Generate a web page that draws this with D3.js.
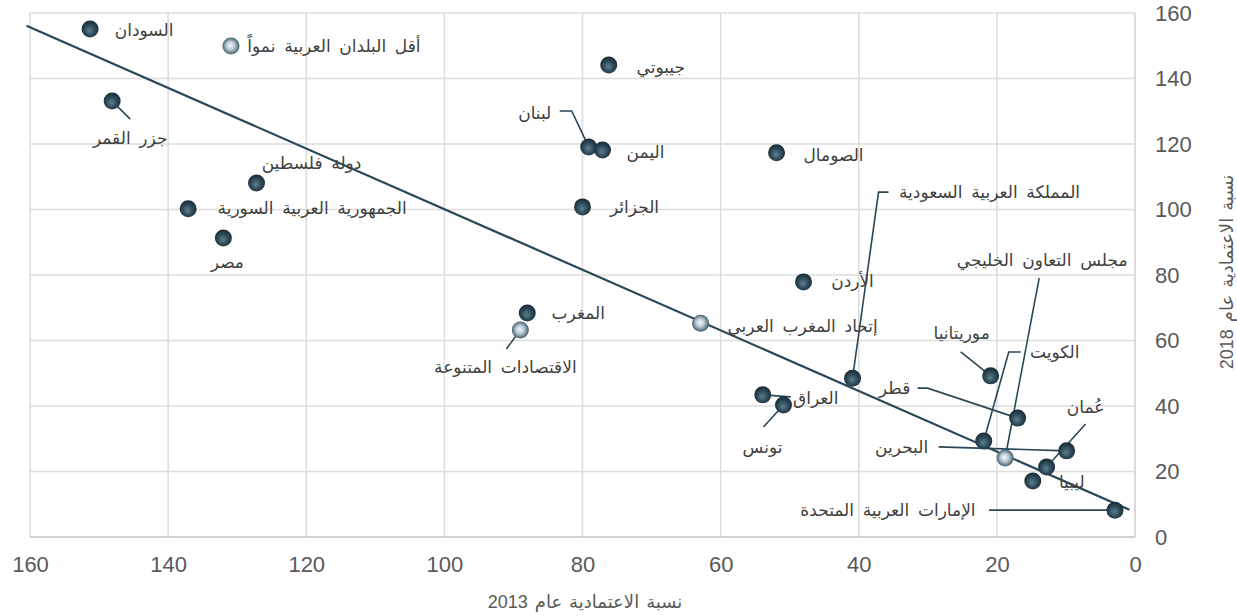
<!DOCTYPE html>
<html>
<head>
<meta charset="utf-8">
<script src="https://cdn.jsdelivr.net/npm/d3@7"></script>
<style>
  body { margin: 0; background: #fff; }
  text { font-family: "Liberation Sans", Arial, "DejaVu Sans", sans-serif; }
</style>
</head>
<body>
<div id="chart"></div>
<script>
'use strict';

// names, dependency 2013 (x) and 2018 (y)
var names = ['السودان', 'أقل البلدان العربية نمواً', 'جيبوتي', 'جزر القمر', 'لبنان', 'اليمن',
  'الصومال', 'الجزائر', 'دولة فلسطين', 'الجمهورية العربية السورية', 'مصر', 'الأردن',
  'المغرب', 'الاقتصادات المتنوعة', 'إتحاد المغرب العربي', 'العراق', 'تونس',
  'المملكة العربية السعودية', 'موريتانيا', 'قطر', 'الكويت', 'مجلس التعاون الخليجي',
  'البحرين', 'عُمان', 'ليبيا', 'الإمارات العربية المتحدة'];
var ratio2013 = [151.3, 130.9, 76.2, 148.1, 79.1, 77.1, 51.9, 80.0, 127.2, 137.1, 132.0, 48.0,
  88.0, 89.0, 62.9, 53.9, 50.9, 40.9, 20.9, 17.0, 21.9, 18.8, 9.9, 12.8, 14.8, 2.9];
var ratio2018 = [155.1, 149.9, 144.1, 133.1, 119.1, 118.2, 117.3, 100.8, 108.1, 100.2, 91.3, 77.9,
  68.4, 63.2, 65.3, 43.4, 40.3, 48.5, 49.2, 36.3, 29.3, 24.1, 26.3, 21.4, 17.1, 8.2];
// aggregates drawn with a pale marker
var groups = ['أقل البلدان العربية نمواً', 'الاقتصادات المتنوعة', 'إتحاد المغرب العربي', 'مجلس التعاون الخليجي'];

// trend line end points [x2013, y2018]
var trendX = [160.5, 0.8];
var trendY = [156.1, 8.3];

var xTicks = [160, 140, 120, 100, 80, 60, 40, 20, 0];
var yTicks = [0, 20, 40, 60, 80, 100, 120, 140, 160];
var xTitle = 'نسبة الاعتمادية عام 2013';
var yTitle = 'نسبة الاعتمادية عام 2018';

// label placement: offset of the label centre from the marker, plus optional leader path (offsets)
var labelLayout = {
  'السودان': {dx: 54, dy: 1},
  'أقل البلدان العربية نمواً': {dx: 103, dy: 0},
  'جيبوتي': {dx: 52, dy: 2},
  'جزر القمر': {dx: 18, dy: 37, lead: [[0, 0], [18, 18]]},
  'لبنان': {dx: -54, dy: -34, lead: [[0, 0], [-17, -36], [-29, -36]]},
  'اليمن': {dx: 43, dy: 2},
  'الصومال': {dx: 57, dy: 2},
  'الجزائر': {dx: 52, dy: 0},
  'دولة فلسطين': {dx: 55, dy: -20},
  'الجمهورية العربية السورية': {dx: 124, dy: -1},
  'مصر': {dx: 4, dy: 24},
  'الأردن': {dx: 49, dy: -1},
  'المغرب': {dx: 51, dy: 0},
  'الاقتصادات المتنوعة': {dx: -15, dy: 37, lead: [[0, 0], [-14, 19]]},
  'إتحاد المغرب العربي': {dx: 102, dy: 3},
  'العراق': {dx: 53, dy: 3, lead: [[0, 0], [28, 2]]},
  'تونس': {dx: -21, dy: 42, lead: [[0, 0], [-20, 22]]},
  'المملكة العربية السعودية': {dx: 137, dy: -186, lead: [[0, 0], [26, -186], [36, -186]]},
  'موريتانيا': {dx: -29, dy: -43, lead: [[-5, -4], [-30, -24]]},
  'قطر': {dx: -123, dy: -30, lead: [[0, 0], [-90, -30], [-100, -30]]},
  'الكويت': {dx: 71, dy: -89, lead: [[0, 0], [25, -89], [37, -89]]},
  'مجلس التعاون الخليجي': {dx: 37, dy: -198, lead: [[0, 0], [34, -180]]},
  'البحرين': {dx: -165, dy: -4, lead: [[0, 0], [-128, -4]]},
  'عُمان': {dx: 39, dy: -60, lead: [[0, 0], [39, -43]]},
  'ليبيا': {dx: 39, dy: 1},
  'الإمارات العربية المتحدة': {dx: -227, dy: 0, lead: [[0, 0], [-126, 0]]}
};

var width = 1237, height = 616;
var plotL = 30, plotR = 1135, plotT = 13, plotB = 537;
var ink = '#2b4757';

var svg = d3.select('#chart').append('svg')
  .attr('width', width)
  .attr('height', height);

var defs = svg.append('defs');
var gDark = defs.append('radialGradient').attr('id', 'ballDark')
  .attr('cx', '50%').attr('cy', '55%').attr('r', '55%').attr('fx', '45%').attr('fy', '60%');
gDark.append('stop').attr('offset', '0%').attr('stop-color', '#5f7f8e');
gDark.append('stop').attr('offset', '55%').attr('stop-color', '#2f4b5b');
gDark.append('stop').attr('offset', '100%').attr('stop-color', '#172934');
var gLight = defs.append('radialGradient').attr('id', 'ballLight')
  .attr('cx', '50%').attr('cy', '50%').attr('r', '55%').attr('fx', '45%').attr('fy', '45%');
gLight.append('stop').attr('offset', '0%').attr('stop-color', '#f4f7f9');
gLight.append('stop').attr('offset', '45%').attr('stop-color', '#b9c9d3');
gLight.append('stop').attr('offset', '80%').attr('stop-color', '#5d7786');
gLight.append('stop').attr('offset', '100%').attr('stop-color', '#2a4554');

var x = d3.scaleLinear().domain([160, 0]).range([plotL, plotR]);
var y = d3.scaleLinear().domain([0, 160]).range([plotB, plotT]);

// gridlines
svg.append('g').selectAll('line').data(xTicks).enter().append('line')
  .attr('x1', function(d){ return x(d); }).attr('x2', function(d){ return x(d); })
  .attr('y1', plotT).attr('y2', plotB)
  .attr('stroke', function(d){ return d === 0 ? '#cfcfcf' : '#dcdcdc'; })
  .attr('stroke-width', 1.5);
svg.append('g').selectAll('line').data(yTicks).enter().append('line')
  .attr('x1', plotL).attr('x2', plotR)
  .attr('y1', function(d){ return y(d); }).attr('y2', function(d){ return y(d); })
  .attr('stroke', function(d){ return d === 0 ? '#c4c4c4' : '#dcdcdc'; })
  .attr('stroke-width', 1.5);

// axes (labels only)
var xAxis = svg.append('g').attr('transform', 'translate(0,' + plotB + ')')
  .call(d3.axisBottom(x).tickValues(xTicks).tickSize(0).tickPadding(19));
var yAxis = svg.append('g').attr('transform', 'translate(' + (plotR + 20) + ',0)')
  .call(d3.axisRight(y).tickValues(yTicks).tickSize(0).tickPadding(0));
[xAxis, yAxis].forEach(function(a){
  a.select('.domain').remove();
  a.selectAll('text').attr('fill', '#595959').style('font-size', '22px')
    .style('font-family', '"Liberation Sans", Arial, sans-serif');
});

svg.append('text').attr('x', 585).attr('y', 608)
  .attr('text-anchor', 'middle').attr('fill', '#595959')
  .style('font-size', '18px').style('word-spacing', '2px')
  .text(xTitle);
svg.append('text').attr('transform', 'translate(1233,272) rotate(-90)')
  .attr('text-anchor', 'middle').attr('fill', '#595959')
  .style('font-size', '18px').style('word-spacing', '2px')
  .text(yTitle);

// trend line
svg.append('line')
  .attr('x1', x(trendX[0])).attr('y1', y(trendY[0]))
  .attr('x2', x(trendX[1])).attr('y2', y(trendY[1]))
  .attr('stroke', ink).attr('stroke-width', 2.2);

var data = names.map(function(n, i){
  return {name: n, x13: ratio2013[i], y18: ratio2018[i], group: groups.indexOf(n) >= 0};
});

// leader lines
var line = d3.line();
svg.append('g').selectAll('path').data(data.filter(function(d){ return labelLayout[d.name].lead; }))
  .enter().append('path')
  .attr('d', function(d){
    var px = x(d.x13), py = y(d.y18);
    return line(labelLayout[d.name].lead.map(function(p){ return [px + p[0], py + p[1]]; }));
  })
  .attr('fill', 'none').attr('stroke', ink).attr('stroke-width', 1.6);

// markers
svg.append('g').selectAll('circle').data(data).enter().append('circle')
  .attr('cx', function(d){ return x(d.x13); })
  .attr('cy', function(d){ return y(d.y18); })
  .attr('r', 8.5)
  .attr('fill', function(d){ return d.group ? 'url(#ballLight)' : 'url(#ballDark)'; });

// labels
svg.append('g').selectAll('text').data(data).enter().append('text')
  .attr('x', function(d){ return x(d.x13) + labelLayout[d.name].dx; })
  .attr('y', function(d){ return y(d.y18) + labelLayout[d.name].dy; })
  .attr('dy', '0.35em')
  .attr('text-anchor', 'middle')
  .attr('fill', '#404040')
  .style('font-size', '17px')
  .style('word-spacing', '4px')
  .text(function(d){ return d.name; });
</script>
</body>
</html>
